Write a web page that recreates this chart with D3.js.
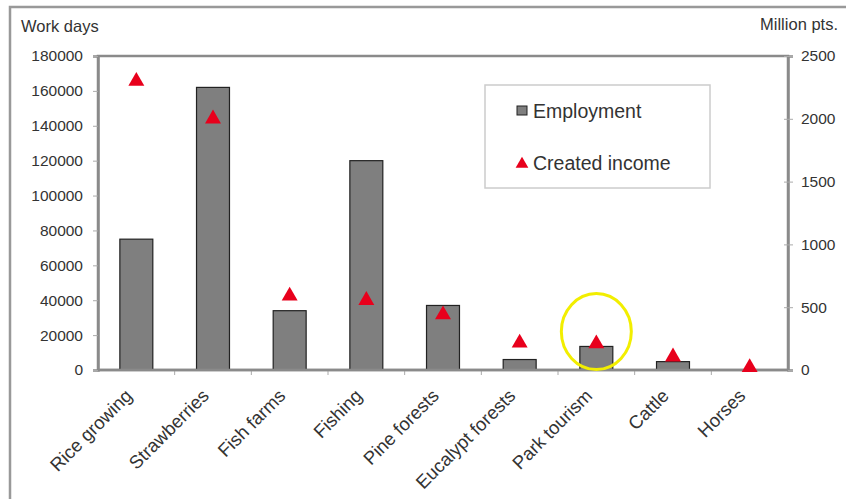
<!DOCTYPE html>
<html><head><meta charset="utf-8">
<script src="https://cdn.jsdelivr.net/npm/d3@7"></script>
<style>body{margin:0;background:#fff;} svg{display:block;font-family:Arial,"Liberation Sans",sans-serif;}</style>
</head><body>
<svg id="c" width="846" height="499"></svg>
<script>
const categories = ["Rice growing","Strawberries","Fish farms","Fishing","Pine forests","Eucalypt forests","Park tourism","Cattle","Horses"];
const employment = [75000,162000,34000,120000,37000,6000,13500,4800,0];
const income = [2300,2000,590,555,440,215,210,105,20];
const leftTicks = [0,20000,40000,60000,80000,100000,120000,140000,160000,180000];
const rightTicks = [0,500,1000,1500,2000,2500];
const highlight = "Park tourism";

const svg = d3.select("#c");
const m = {l:98, r:788, t:56, b:370};
svg.append("rect").attr("x",10).attr("y",7).attr("width",860).attr("height",520)
  .attr("fill","#fff").attr("stroke","#999").attr("stroke-width",2.5);

const x = d3.scaleBand().domain(categories).range([m.l,m.r]).paddingInner(0.57).paddingOuter(0.285);
const xb = d3.scaleBand().domain(categories).range([m.l,m.r]);
const yL = d3.scaleLinear().domain([0,180000]).range([m.b,m.t]);
const yR = d3.scaleLinear().domain([0,2500]).range([m.b,m.t]);

// frame
svg.append("rect").attr("x",m.l).attr("y",m.t).attr("width",m.r-m.l).attr("height",m.b-m.t)
  .attr("fill","none").attr("stroke","#8a8a8a").attr("stroke-width",2.5);

// left axis
const gl = svg.append("g").attr("transform",`translate(${m.l},0)`)
  .call(d3.axisLeft(yL).tickValues(leftTicks).tickSize(5).tickPadding(10).tickFormat(d3.format("d")));
// right axis
const gr = svg.append("g").attr("transform",`translate(${m.r},0)`)
  .call(d3.axisRight(yR).tickValues(rightTicks).tickSize(5).tickPadding(8).tickFormat(d3.format("d")));
[gl,gr].forEach(g=>{
  g.select(".domain").attr("stroke","#8a8a8a").attr("stroke-width",2.5);
  g.selectAll(".tick line").attr("stroke","#aaa");
  g.selectAll(".tick text").attr("fill","#333").style("font-size","15.5px").style("font-family","Arial, 'Liberation Sans', sans-serif");
});
gr.selectAll(".tick line").attr("x1",-4);

// category boundary ticks
svg.append("g").selectAll("line").data(categories.slice(1)).join("line")
  .attr("x1",d=>xb(d)).attr("x2",d=>xb(d)).attr("y1",m.b).attr("y2",m.b+5)
  .attr("stroke","#aaa");

// bars
svg.append("g").selectAll("rect").data(categories).join("rect")
  .attr("x",d=>x(d)).attr("width",x.bandwidth())
  .attr("y",(d,i)=>yL(employment[i])).attr("height",(d,i)=>m.b-yL(employment[i]))
  .attr("fill","#7f7f7f").attr("stroke","#222").attr("stroke-width",1.2);

// x axis line over bars
svg.append("line").attr("x1",m.l).attr("x2",m.r).attr("y1",m.b).attr("y2",m.b)
  .attr("stroke","#8a8a8a").attr("stroke-width",2.5);

// triangles
const tri = d3.symbol().type(d3.symbolTriangle).size(110);
svg.append("g").selectAll("path").data(categories).join("path")
  .attr("d",tri)
  .attr("transform",(d,i)=>`translate(${xb(d)+xb.bandwidth()/2},${yR(income[i])})`)
  .attr("fill","#e8001c");

// category labels
svg.append("g").selectAll("text").data(categories).join("text")
  .attr("transform",d=>`translate(${xb(d)+xb.bandwidth()/2-3},${m.b+27}) rotate(-45)`)
  .attr("text-anchor","end").attr("fill","#333").style("font-size","18.5px").text(d=>d);

// axis titles
svg.append("text").attr("x",21).attr("y",32).attr("fill","#333").style("font-size","16.5px").text("Work days");
svg.append("text").attr("x",838).attr("y",30).attr("text-anchor","end").attr("fill","#333").style("font-size","16.5px").text("Million pts.");

// legend
const lg = svg.append("g");
lg.append("rect").attr("x",485).attr("y",85).attr("width",225).attr("height",103)
  .attr("fill","#fff").attr("stroke","#ccc").attr("stroke-width",1.5);
lg.append("rect").attr("x",517).attr("y",106).attr("width",10).attr("height",9)
  .attr("fill","#7f7f7f").attr("stroke","#222");
lg.append("text").attr("x",533).attr("y",118).attr("fill","#333").style("font-size","19.5px").text("Employment");
lg.append("path").attr("d",d3.symbol().type(d3.symbolTriangle).size(70))
  .attr("transform","translate(522,164)").attr("fill","#e8001c");
lg.append("text").attr("x",533).attr("y",170).attr("fill","#333").style("font-size","19.5px").text("Created income");

// highlight ellipse
const hi = categories.indexOf(highlight);
svg.append("ellipse").attr("cx",xb(highlight)+xb.bandwidth()/2).attr("cy",yR(income[hi])-12)
  .attr("rx",35).attr("ry",38).attr("fill","none").attr("stroke","#f2ee00").attr("stroke-width",3);
</script>
</body></html>
